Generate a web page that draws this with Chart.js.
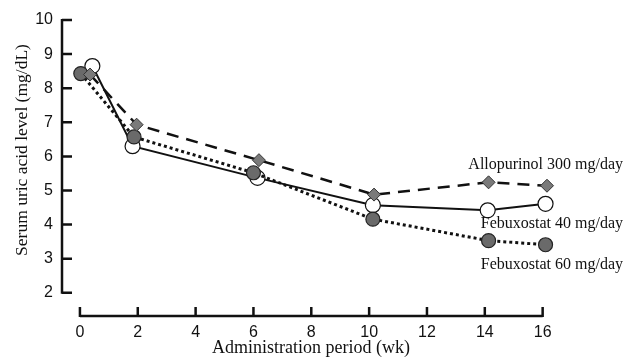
<!DOCTYPE html>
<html>
<head>
<meta charset="utf-8">
<script src="https://cdn.jsdelivr.net/npm/chart.js@4/dist/chart.umd.min.js"></script>
<style>
  html, body { margin: 0; padding: 0; background: #fff; }
  #wrap { width: 627px; height: 364px; }
</style>
</head>
<body>
<div id="wrap"><canvas id="chart" width="627" height="364"></canvas></div>
<script>
// ── Data ────────────────────────────────────────────────────────
const allopurinolWeeks  = [0.35, 1.96, 6.19, 10.17, 14.13, 16.15];
const allopurinolValues = [8.40, 6.93, 5.89, 4.88, 5.24, 5.14];

const feb40Weeks  = [0.43, 1.82, 6.14, 10.13, 14.10, 16.10];
const feb40Values = [8.65, 6.30, 5.37, 4.57, 4.42, 4.61];

const feb60Weeks  = [0.03, 1.87, 6.00, 10.13, 14.13, 16.10];
const feb60Values = [8.43, 6.57, 5.52, 4.16, 3.53, 3.41];

const xTickValues = [0, 2, 4, 6, 8, 10, 12, 14, 16];
const yTickValues = [2, 3, 4, 5, 6, 7, 8, 9, 10];

const seriesLabels = ["Allopurinol 300 mg/day", "Febuxostat 40 mg/day", "Febuxostat 60 mg/day"];
const yTitle = "Serum uric acid level (mg/dL)";
const xTitle = "Administration period (wk)";

const toPoints = (xs, ys) => xs.map((x, i) => ({ x, y: ys[i] }));

const serif = "'Liberation Serif', 'DejaVu Serif', serif";

// ── Axis lines + inward ticks + y title + series labels ─────────
const axesPlugin = {
  id: "axesPlugin",
  afterDraw(chart) {
    const { ctx, scales: { x, y } } = chart;
    const yx = chart.chartArea.left;
    const xy = chart.chartArea.bottom;
    ctx.save();
    ctx.strokeStyle = "#111";
    ctx.lineWidth = 2.5;
    ctx.lineCap = "butt";

    // y axis
    const yTop = y.getPixelForValue(yTickValues[yTickValues.length - 1]);
    const yBot = y.getPixelForValue(yTickValues[0]);
    ctx.beginPath();
    ctx.moveTo(yx, yTop - 1);
    ctx.lineTo(yx, yBot + 1);
    yTickValues.forEach(v => {
      const p = y.getPixelForValue(v);
      ctx.moveTo(yx, p);
      ctx.lineTo(yx + 10, p);
    });
    ctx.stroke();

    // x axis
    const xl = x.getPixelForValue(xTickValues[0]);
    const xr = x.getPixelForValue(xTickValues[xTickValues.length - 1]);
    ctx.beginPath();
    ctx.moveTo(xl, xy);
    ctx.lineTo(xr, xy);
    xTickValues.forEach(v => {
      const p = x.getPixelForValue(v);
      ctx.moveTo(p, xy + 1);
      ctx.lineTo(p, xy - 9);
    });
    ctx.stroke();

    ctx.fillStyle = "#111";
    ctx.textBaseline = "middle";

    // y title (sits a bit above the plot centre in the original)
    ctx.save();
    ctx.translate(22, 150);
    ctx.rotate(-Math.PI / 2);
    ctx.textAlign = "center";
    ctx.font = "17.5px " + serif;
    ctx.fillText(yTitle, 0, 0);
    ctx.restore();

    // series labels
    ctx.font = "16px " + serif;
    ctx.textAlign = "right";
    ctx.fillText(seriesLabels[0], 623, 165);
    ctx.fillText(seriesLabels[1], 623, 224);
    ctx.fillText(seriesLabels[2], 623, 265);
    ctx.restore();
  }
};

const tickFont = { family: "'Liberation Sans', Arial, sans-serif", size: 16 };

new Chart(document.getElementById("chart"), {
  type: "line",
  data: {
    datasets: [
      {
        label: seriesLabels[0],
        data: toPoints(allopurinolWeeks, allopurinolValues),
        borderColor: "#111",
        borderWidth: 2.5,
        borderDash: [12, 8],
        pointStyle: "rectRot",
        pointRadius: 6.5,
        pointBackgroundColor: "#7a7a7a",
        pointBorderColor: "#333",
        pointBorderWidth: 1,
        order: 1
      },
      {
        label: seriesLabels[1],
        data: toPoints(feb40Weeks, feb40Values),
        borderColor: "#111",
        borderWidth: 2,
        pointStyle: "circle",
        pointRadius: 7.5,
        pointBackgroundColor: "#fff",
        pointBorderColor: "#111",
        pointBorderWidth: 1.2,
        order: 3
      },
      {
        label: seriesLabels[2],
        data: toPoints(feb60Weeks, feb60Values),
        borderColor: "#111",
        borderWidth: 3,
        borderDash: [3, 3],
        pointStyle: "circle",
        pointRadius: 7,
        pointBackgroundColor: "#6a6a6a",
        pointBorderColor: "#222",
        pointBorderWidth: 1.2,
        order: 2
      }
    ]
  },
  options: {
    responsive: false,
    animation: false,
    layout: { padding: { top: 20, right: 67, left: 0, bottom: 0 } },
    plugins: { legend: { display: false }, tooltip: { enabled: false } },
    scales: {
      x: {
        type: "linear",
        min: -0.62,
        max: 16.6,
        afterBuildTicks: s => { s.ticks = xTickValues.map(v => ({ value: v })); },
        afterFit: s => { s.height = 48; },
        grid: { display: false, drawTicks: false },
        border: { display: false },
        ticks: { color: "#111", font: tickFont, padding: 7, maxRotation: 0, autoSkip: false },
        title: {
          display: true,
          text: xTitle,
          color: "#111",
          font: { family: serif, size: 18 },
          padding: { top: 0, bottom: 5 }
        }
      },
      y: {
        type: "linear",
        min: 1.32,
        max: 10,
        afterBuildTicks: s => { s.ticks = yTickValues.map(v => ({ value: v })); },
        afterFit: s => { s.width = 62; },
        grid: { display: false, drawTicks: false },
        border: { display: false },
        ticks: { color: "#111", font: tickFont, padding: 9 },
        title: { display: false }
      }
    }
  },
  plugins: [axesPlugin]
});
</script>
</body>
</html>
